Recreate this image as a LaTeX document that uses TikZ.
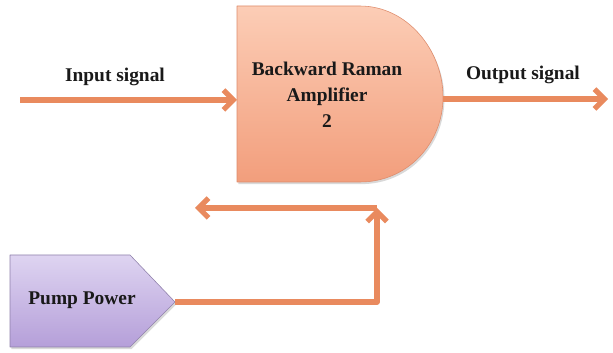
\documentclass[tikz,border=0pt]{standalone}
\usepackage{fontspec}
\setmainfont{Liberation Serif}
\usetikzlibrary{arrows.meta,shadows}

\definecolor{flowc}{HTML}{E98A5E}
\definecolor{amptop}{HTML}{FCCDB6}
\definecolor{ampbot}{HTML}{F29E7C}
\definecolor{ampline}{HTML}{DE8C6C}
\definecolor{pumptop}{HTML}{DED4F1}
\definecolor{pumpbot}{HTML}{B59FD9}
\definecolor{pumpline}{HTML}{8F80AA}

\begin{document}
\begin{tikzpicture}[x=0.025cm,y=-0.025cm,line join=round,
    flow/.style={draw=flowc,line width=3.7pt},
    tip/.style={-{Straight Barb[length=7pt,width=14pt]}},
    lbl/.style={font=\fontsize{13.8}{18.5}\selectfont\bfseries,text=black!90},
    shade/.style={drop shadow={shadow xshift=1pt,shadow yshift=-1.5pt,opacity=0.3}}]
\useasboundingbox (0,0) rectangle (613,353);

% amplifier
\draw[ampline,thin,shade,top color=amptop,bottom color=ampbot]
  (237,6) -- (360,6) .. controls (407,6) and (443,50) .. (443,97)
  .. controls (443,144) and (407,182) .. (360,182) -- (237,182) -- cycle;
\coordinate (ampW) at (237,100);
\coordinate (ampE) at (443,99);
\node[lbl,align=center] (amp) at (327,95) {Backward Raman\\Amplifier\\2};

% pump
\draw[pumpline,thin,shade,top color=pumptop,bottom color=pumpbot]
  (10,255) -- (130,255) -- (175,302) -- (130,347) -- (10,347) -- cycle;
\coordinate (pumpE) at (175,302);
\node[lbl] (pump) at (82,300) {Pump Power};

% signals
\coordinate (in) at (20,100);
\coordinate (out) at (608,99);
\draw[flow,tip] (in) -- (ampW);
\draw[flow,tip] (ampE) -- (out);
\node[lbl] (inlbl) at (115,77) {Input signal};
\node[lbl] (outlbl) at (523,75) {Output signal};

% feedback
\coordinate (corner) at (377,302);
\coordinate (fbtop) at (377,208);
\coordinate (fbend) at (195,208);
\draw[flow,tip] (pumpE) -- (corner) -- (fbtop);
\draw[flow,tip] (fbtop) -- (fbend);
\end{tikzpicture}
\end{document}
